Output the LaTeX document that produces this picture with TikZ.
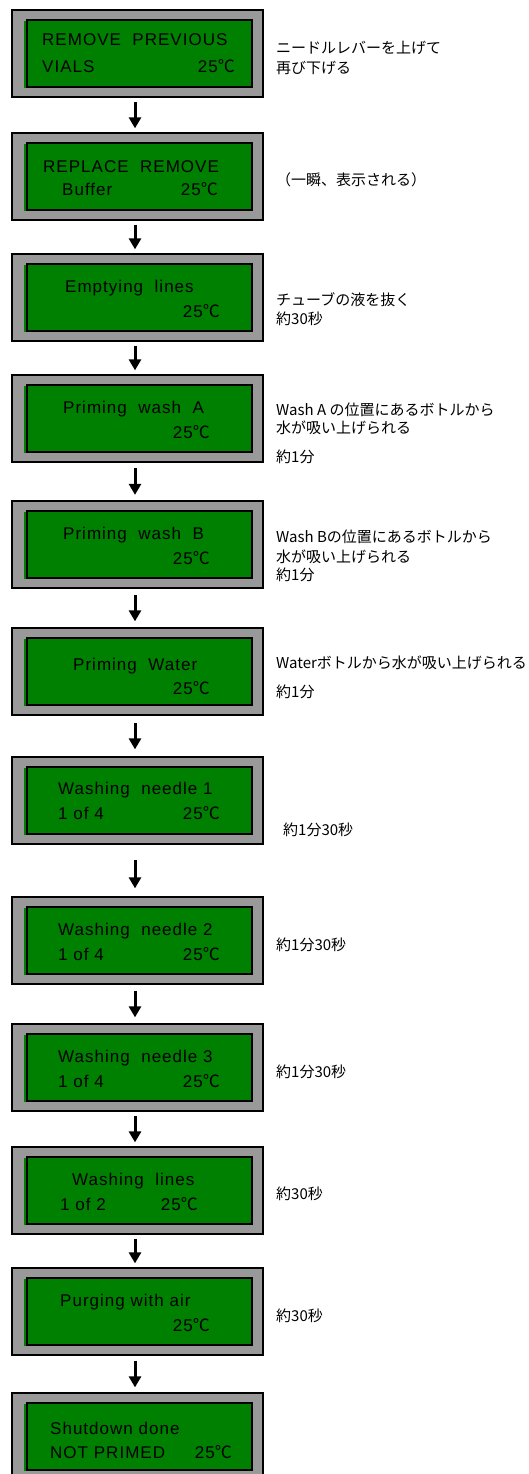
\documentclass[tikz,border=0pt]{standalone}
\usepackage{fontspec}
\setmainfont{Liberation Sans}
\newfontfamily\lcdfont[LetterSpace=6]{Liberation Sans}
\newfontfamily\jpfont{Noto Sans CJK JP}
\usetikzlibrary{arrows.meta}
\definecolor{lcdgreen}{HTML}{008000}
\definecolor{lcdgray}{HTML}{999999}
\newcommand{\degc}{{\jpfont ℃}}

\begin{document}
\begin{tikzpicture}[x=1pt, y=-1pt, >={Triangle[width=12pt,length=11pt]}]
    \tikzstyle{lcdframe}=[draw=black, fill=lcdgray, line width=1.3pt, minimum width=251pt, minimum height=87pt, inner sep=0pt]
    \tikzstyle{lcdscreen}=[draw=black, fill=lcdgreen, line width=1.3pt, minimum width=225pt, minimum height=67pt, inner sep=0pt,
        preaction={fill=lcdgreen, transform canvas={xshift=-3pt, yshift=-1pt}}]
    \tikzstyle{lcdtext}=[inner sep=0pt, font=\lcdfont\fontsize{17}{20}\selectfont]
    \tikzstyle{note}=[anchor=west, inner sep=0pt, font=\jpfont\fontsize{15}{18}\selectfont]
    \tikzstyle{flowarrow}=[->, line width=3pt, shorten <=4pt, shorten >=4pt]
    \useasboundingbox (0,0) rectangle (529,1474);

    % display panels
    \node[lcdframe]  (f1)  at (137.5,53.5)   {};
    \node[lcdscreen] (s1)  at (139.5,53.5)   {};
    \node[lcdframe]  (f2)  at (137.5,176.5)  {};
    \node[lcdscreen] (s2)  at (139.5,176.5)  {};
    \node[lcdframe]  (f3)  at (137.5,297.5)  {};
    \node[lcdscreen] (s3)  at (139.5,297.5)  {};
    \node[lcdframe]  (f4)  at (137.5,418.5)  {};
    \node[lcdscreen] (s4)  at (139.5,418.5)  {};
    \node[lcdframe]  (f5)  at (137.5,544.5)  {};
    \node[lcdscreen] (s5)  at (139.5,544.5)  {};
    \node[lcdframe]  (f6)  at (137.5,671.5)  {};
    \node[lcdscreen] (s6)  at (139.5,671.5)  {};
    \node[lcdframe]  (f7)  at (137.5,800.5)  {};
    \node[lcdscreen] (s7)  at (139.5,800.5)  {};
    \node[lcdframe]  (f8)  at (137.5,940.5)  {};
    \node[lcdscreen] (s8)  at (139.5,940.5)  {};
    \node[lcdframe]  (f9)  at (137.5,1067.5) {};
    \node[lcdscreen] (s9)  at (139.5,1067.5) {};
    \node[lcdframe]  (f10) at (137.5,1190.5) {};
    \node[lcdscreen] (s10) at (139.5,1190.5) {};
    \node[lcdframe]  (f11) at (137.5,1311.5) {};
    \node[lcdscreen] (s11) at (139.5,1311.5) {};
    \node[lcdframe]  (f12) at (137.5,1436.5) {};
    \node[lcdscreen] (s12) at (139.5,1436.5) {};

    % display texts
    \node[lcdtext, anchor=base west] (l1a)  at (42,46)    {REMOVE\ \ PREVIOUS};
    \node[lcdtext, anchor=base west] (l1b)  at (42,73)    {VIALS};
    \node[lcdtext, anchor=base east] (t1)   at (235,73)   {25\degc};
    \node[lcdtext, anchor=base west] (l2a)  at (43,173)   {REPLACE\ \ REMOVE};
    \node[lcdtext, anchor=base west] (l2b)  at (62,196)   {Buffer};
    \node[lcdtext, anchor=base east] (t2)   at (218,196)  {25\degc};
    \node[lcdtext, anchor=base west] (l3a)  at (65,292)   {Emptying\ \ lines};
    \node[lcdtext, anchor=base east] (t3)   at (220,317)  {25\degc};
    \node[lcdtext, anchor=base west] (l4a)  at (63,413)   {Priming\ \ wash\ \ A};
    \node[lcdtext, anchor=base east] (t4)   at (210,438)  {25\degc};
    \node[lcdtext, anchor=base west] (l5a)  at (63,539)   {Priming\ \ wash\ \ B};
    \node[lcdtext, anchor=base east] (t5)   at (210,564)  {25\degc};
    \node[lcdtext, anchor=base west] (l6a)  at (73,670)   {Priming\ \ Water};
    \node[lcdtext, anchor=base east] (t6)   at (210,694)  {25\degc};
    \node[lcdtext, anchor=base west] (l7a)  at (58,794)   {Washing\ \ needle\ 1};
    \node[lcdtext, anchor=base west] (l7b)  at (58,819)   {1\ of\ 4};
    \node[lcdtext, anchor=base east] (t7)   at (220,819)  {25\degc};
    \node[lcdtext, anchor=base west] (l8a)  at (58,935)   {Washing\ \ needle\ 2};
    \node[lcdtext, anchor=base west] (l8b)  at (58,960)   {1\ of\ 4};
    \node[lcdtext, anchor=base east] (t8)   at (220,960)  {25\degc};
    \node[lcdtext, anchor=base west] (l9a)  at (58,1062)  {Washing\ \ needle\ 3};
    \node[lcdtext, anchor=base west] (l9b)  at (58,1087)  {1\ of\ 4};
    \node[lcdtext, anchor=base east] (t9)   at (220,1087) {25\degc};
    \node[lcdtext, anchor=base west] (l10a) at (72,1185)  {Washing\ \ lines};
    \node[lcdtext, anchor=base west] (l10b) at (60,1210)  {1\ of\ 2};
    \node[lcdtext, anchor=base east] (t10)  at (198,1210) {25\degc};
    \node[lcdtext, anchor=base west] (l11a) at (60,1306)  {Purging\ with\ air};
    \node[lcdtext, anchor=base east] (t11)  at (210,1331) {25\degc};
    \node[lcdtext, anchor=base west] (l12a) at (50,1434)  {Shutdown\ done};
    \node[lcdtext, anchor=base west] (l12b) at (50,1458)  {NOT\ PRIMED};
    \node[lcdtext, anchor=base east] (t12)  at (232,1458) {25\degc};

    % notes on the right
    \node[note] (n1a)  at (276,48)   {ニードルレバーを上げて};
    \node[note] (n1b)  at (276,68)   {再び下げる};
    \node[note] (n2)   at (276,180)  {（一瞬、表示される）};
    \node[note] (n3a)  at (276,300)  {チューブの液を抜く};
    \node[note] (n3b)  at (276,319)  {約30秒};
    \node[note] (n4a)  at (276,410)  {Wash A の位置にあるボトルから};
    \node[note] (n4b)  at (276,428)  {水が吸い上げられる};
    \node[note] (n4c)  at (276,457)  {約1分};
    \node[note] (n5a)  at (276,537)  {Wash Bの位置にあるボトルから};
    \node[note] (n5b)  at (276,557)  {水が吸い上げられる};
    \node[note] (n5c)  at (276,575)  {約1分};
    \node[note] (n6a)  at (276,663)  {Waterボトルから水が吸い上げられる};
    \node[note] (n6b)  at (276,692)  {約1分};
    \node[note] (n7)   at (283,830)  {約1分30秒};
    \node[note] (n8)   at (276,945)  {約1分30秒};
    \node[note] (n9)   at (276,1072) {約1分30秒};
    \node[note] (n10)  at (276,1194) {約30秒};
    \node[note] (n11)  at (276,1316) {約30秒};

    % arrows
    \draw[flowarrow] ([xshift=-2.5pt]f1.south) -- ([xshift=-2.5pt]f2.north);
    \draw[flowarrow] ([xshift=-2.5pt]f2.south) -- ([xshift=-2.5pt]f3.north);
    \draw[flowarrow] ([xshift=-2.5pt]f3.south) -- ([xshift=-2.5pt]f4.north);
    \draw[flowarrow, shorten <=5.5pt, shorten >=5.5pt] ([xshift=-2.5pt]f4.south) -- ([xshift=-2.5pt]f5.north);
    \draw[flowarrow, shorten <=6pt, shorten >=6pt] ([xshift=-2.5pt]f5.south) -- ([xshift=-2.5pt]f6.north);
    \draw[flowarrow, shorten <=7pt, shorten >=7pt] ([xshift=-2.5pt]f6.south) -- ([xshift=-2.5pt]f7.north);
    \draw[flowarrow, shorten <=15pt, shorten >=8pt] ([xshift=-2.5pt]f7.south) -- ([xshift=-2.5pt]f8.north);
    \draw[flowarrow, shorten <=6pt, shorten >=6pt] ([xshift=-2.5pt]f8.south) -- ([xshift=-2.5pt]f9.north);
    \draw[flowarrow] ([xshift=-2.5pt]f9.south) -- ([xshift=-2.5pt]f10.north);
    \draw[flowarrow] ([xshift=-2.5pt]f10.south) -- ([xshift=-2.5pt]f11.north);
    \draw[flowarrow, shorten <=5pt, shorten >=5pt] ([xshift=-2.5pt]f11.south) -- ([xshift=-2.5pt]f12.north);
\end{tikzpicture}
\end{document}
